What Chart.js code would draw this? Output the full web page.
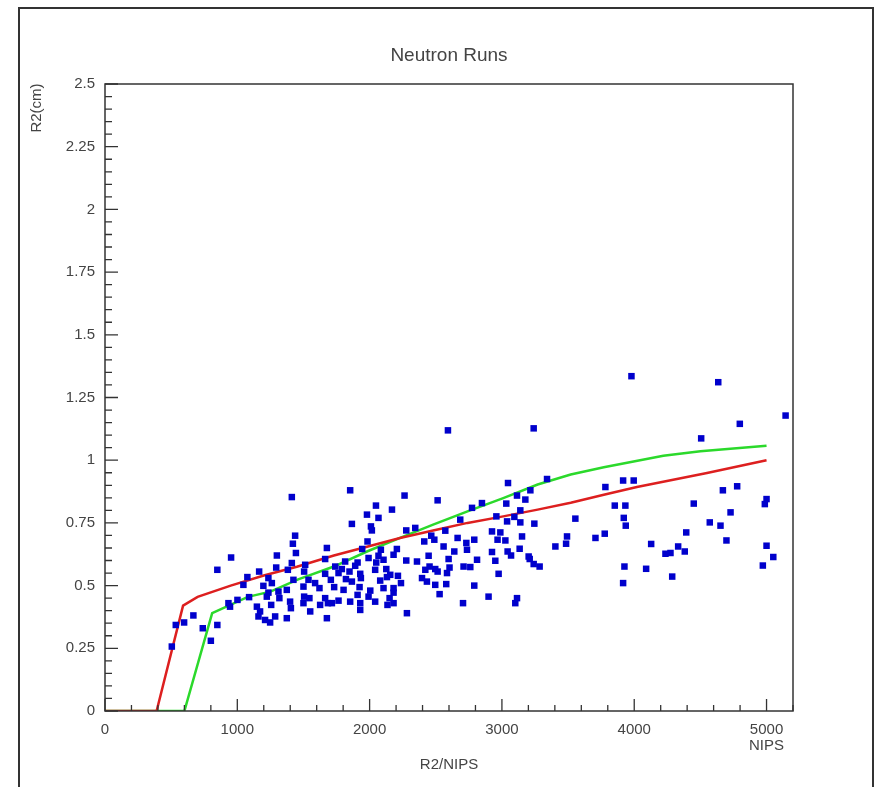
<!DOCTYPE html>
<html>
<head>
<meta charset="UTF-8" />
<title>Neutron Runs</title>
<style>
  html,body{margin:0;padding:0;background:#fff;overflow:hidden;}
  canvas{display:block;}
</style>
<script src="https://cdn.jsdelivr.net/npm/chart.js@4.4.0/dist/chart.umd.min.js"></script>
</head>
<body>
<canvas id="c" width="878" height="787"></canvas>
<script>
// ===== data =====
const scatterX = [
  1412,1437,1420,1443,1299,953,1412,849,1165,1294,1382,1076,1235,1261,1046,1197,1424,1374,1311,1235,
  1089,1001,933,1223,1399,1318,1148,1256,1405,1172,1286,1374,1160,1210,1248,668,849,535,598,739,
  945,505,800,1853,2048,2169,1980,2067,2010,2017,1866,1984,1677,1685,
  2264,2514,2277,2345,2466,2572,2685,2413,2489,2665,2731,1944,2085,2206,2559,2640,2736,
  1664,1815,1909,1992,2067,2181,2446,2597,1513,1740,1790,1891,2050,2105,2277,2358,2453,2496,2604,2710,
  1505,1664,1765,1848,1929,2042,2126,2156,2214,2421,2514,2585,1538,1588,1707,1821,1866,1934,2080,2131,
  2237,2396,2433,2496,2579,1500,1621,1732,1803,1924,2005,2105,2181,2529,1505,1545,1664,1765,1909,1992,
  2151,2181,1500,1626,1715,1853,1929,2042,2135,2181,2706,1551,1929,2282,1677,
  3046,3341,3782,3916,3996,3215,3114,3177,3033,2849,2774,3853,3933,3139,2958,3094,3039,3139,3245,3555,
  3921,3936,2925,2988,3707,3777,3152,2967,3026,2791,3492,3485,3404,3134,2925,3043,3069,3202,3210,2812,
  2950,3240,3285,2761,2975,3926,2791,3916,2899,3114,3101,
  4778,4670,5000,4987,4450,4728,4571,4652,4393,4697,4128,4332,4236,4274,4382,5000,5051,4972,4090,4287,
  3979,4635,5144,4798,4506,3240,2592
];
const scatterY = [
  0.853,0.699,0.667,0.630,0.620,0.612,0.590,0.563,0.556,0.572,0.563,0.534,0.530,0.510,0.503,0.499,0.523,0.483,0.476,0.472,
  0.454,0.443,0.430,0.456,0.436,0.450,0.416,0.423,0.410,0.397,0.377,0.370,0.377,0.363,0.353,0.381,0.343,0.343,0.353,0.330,
  0.416,0.257,0.280,0.880,0.819,0.803,0.783,0.770,0.736,0.720,0.746,0.676,0.650,0.430,
  0.859,0.840,0.720,0.730,0.699,0.719,0.763,0.676,0.683,0.690,0.670,0.646,0.643,0.646,0.656,0.636,0.643,
  0.606,0.596,0.592,0.610,0.619,0.623,0.619,0.606,0.583,0.576,0.566,0.579,0.592,0.603,0.600,0.596,0.576,0.566,0.572,0.576,
  0.556,0.547,0.550,0.556,0.547,0.563,0.566,0.543,0.539,0.563,0.556,0.550,0.523,0.510,0.523,0.526,0.516,0.530,0.520,0.534,
  0.510,0.530,0.516,0.503,0.506,0.496,0.490,0.494,0.483,0.494,0.480,0.490,0.490,0.466,0.456,0.450,0.450,0.440,0.463,0.456,
  0.450,0.472,0.430,0.423,0.430,0.436,0.430,0.436,0.423,0.430,0.430,0.397,0.403,0.390,0.370,
  0.909,0.925,0.893,0.919,0.919,0.880,0.859,0.843,0.827,0.829,0.810,0.819,0.819,0.800,0.776,0.774,0.756,0.752,0.747,0.767,
  0.770,0.739,0.716,0.712,0.690,0.707,0.696,0.683,0.680,0.683,0.696,0.667,0.656,0.647,0.634,0.636,0.620,0.616,0.606,0.603,
  0.599,0.586,0.576,0.574,0.547,0.576,0.500,0.510,0.456,0.450,0.430,
  0.896,0.880,0.845,0.825,0.827,0.792,0.752,0.739,0.712,0.680,0.666,0.656,0.627,0.630,0.636,0.659,0.614,0.580,0.567,0.536,
  1.335,1.311,1.178,1.145,1.087,1.127,1.119
];

const redX = [0,390,590,700,950,1200,1450,1730,1980,2230,2480,2740,3010,3270,3520,3770,4020,4550,5000];
const redY = [0,0,0.42,0.455,0.50,0.54,0.575,0.62,0.655,0.69,0.72,0.75,0.776,0.803,0.83,0.862,0.893,0.949,1.0];

const greenX = [0,600,810,1080,1250,1460,1730,1980,2230,2480,2740,3010,3270,3520,3770,4220,4500,5000];
const greenY = [0,0,0.39,0.455,0.476,0.525,0.576,0.636,0.69,0.743,0.796,0.849,0.903,0.943,0.972,1.018,1.036,1.058];

const xTickValues = [0,1000,2000,3000,4000,5000];
const xTickLabels = ['0','1000','2000','3000','4000','5000'];
const yTickValues = [0,0.25,0.5,0.75,1,1.25,1.5,1.75,2,2.25,2.5];
const yTickLabels = ['0','0.25','0.5','0.75','1','1.25','1.5','1.75','2','2.25','2.5'];
const xMinorStep = 200, yMinorStep = 0.05;

const pairs = (xs, ys) => xs.map((x, i) => ({x, y: ys[i]}));
const tickFont = {family:'"Liberation Sans", Arial, sans-serif', size:15};
const ink = '#333';

// frame, title, inward ticks, extra "NIPS" label
const decor = {
  id:'decor',
  afterDraw(chart){
    const {ctx, chartArea:a, scales:{x, y}} = chart;
    ctx.save();
    // outer frame
    ctx.strokeStyle = ink; ctx.lineWidth = 2;
    ctx.beginPath();
    ctx.moveTo(19, 800); ctx.lineTo(19, 8); ctx.lineTo(873, 8); ctx.lineTo(873, 800);
    ctx.stroke();
    // plot box
    ctx.lineWidth = 1.5;
    ctx.strokeRect(a.left, a.top, a.right - a.left, a.bottom - a.top);
    // ticks (inward)
    ctx.lineWidth = 1.3;
    ctx.beginPath();
    for (let v = 0; v <= x.max + 1e-6; v += xMinorStep) {
      const p = x.getPixelForValue(v);
      const len = (Math.round(v) % 1000 === 0) ? 12 : 6;
      ctx.moveTo(p, a.bottom); ctx.lineTo(p, a.bottom - len);
    }
    for (let i = 0; i * yMinorStep <= y.max + 1e-6; i++) {
      const v = i * yMinorStep;
      const p = y.getPixelForValue(v);
      const len = (i % 5 === 0) ? 13 : 7;
      ctx.moveTo(a.left, p); ctx.lineTo(a.left + len, p);
    }
    ctx.stroke();
    // title
    ctx.fillStyle = '#444';
    ctx.font = '19px "Liberation Sans", Arial, sans-serif';
    ctx.textAlign = 'center'; ctx.textBaseline = 'middle';
    ctx.fillText('Neutron Runs', (a.left + a.right) / 2, 56);
    // unit label under the last tick
    ctx.font = '15px "Liberation Sans", Arial, sans-serif';
    ctx.fillText('NIPS', x.getPixelForValue(5000), 746);
    // y axis name
    ctx.save();
    ctx.translate(37, 108);
    ctx.rotate(-Math.PI / 2);
    ctx.fillText('R2(cm)', 0, 0);
    ctx.restore();
    ctx.restore();
  }
};

new Chart(document.getElementById('c'), {
  type:'scatter',
  data:{
    datasets:[
      {
        label:'runs',
        data:pairs(scatterX, scatterY),
        backgroundColor:'#0000cc',
        borderColor:'#0000cc',
        pointStyle:'rect',
        pointRadius:4.6,
        borderWidth:0
      },
      {
        label:'red',
        data:pairs(redX, redY),
        showLine:true,
        borderColor:'#dd1f1f',
        borderWidth:2.5,
        pointRadius:0,
        tension:0
      },
      {
        label:'green',
        data:pairs(greenX, greenY),
        showLine:true,
        borderColor:'#2bd92b',
        borderWidth:2.5,
        pointRadius:0,
        tension:0
      }
    ]
  },
  options:{
    responsive:false,
    animation:false,
    devicePixelRatio:1,
    layout:{padding:{top:84, right:85, left:0, bottom:0}},
    plugins:{legend:{display:false}, tooltip:{enabled:false}},
    scales:{
      x:{
        type:'linear', min:0, max:5200,
        afterBuildTicks:s => { s.ticks = xTickValues.map(v => ({value:v})); },
        afterFit:s => { s.height = 76; },
        grid:{display:false, drawTicks:false},
        border:{display:false},
        ticks:{
          padding:10, color:'#444', font:tickFont, maxRotation:0, autoSkip:false,
          callback:(v) => xTickLabels[xTickValues.indexOf(v)]
        },
        title:{display:true, text:'R2/NIPS', color:'#444', font:tickFont, padding:{top:0, bottom:13}}
      },
      y:{
        type:'linear', min:0, max:2.5,
        afterBuildTicks:s => { s.ticks = yTickValues.map(v => ({value:v})); },
        afterFit:s => { s.width = 105; },
        grid:{display:false, drawTicks:false},
        border:{display:false},
        ticks:{
          padding:10, color:'#444', font:tickFont, autoSkip:false,
          callback:(v) => yTickLabels[yTickValues.indexOf(v)]
        }
      }
    }
  },
  plugins:[decor]
});
</script>
</body>
</html>
